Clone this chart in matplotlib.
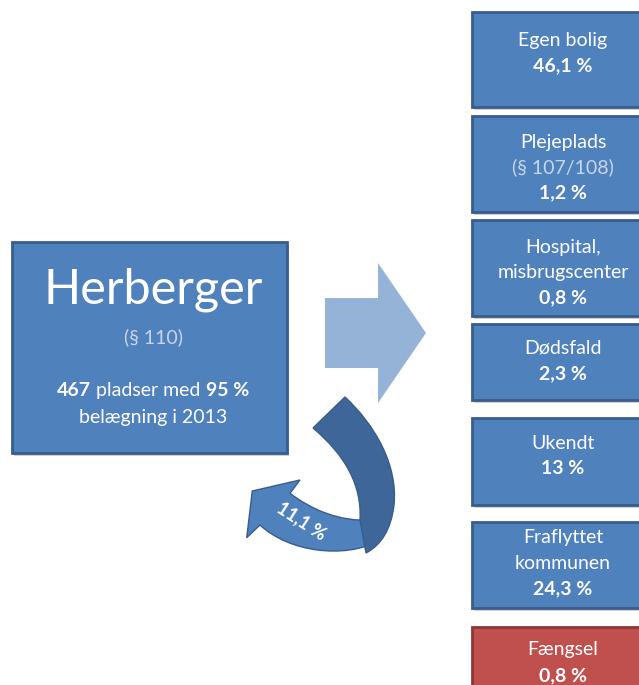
import matplotlib.pyplot as plt
from matplotlib.patches import Rectangle, Polygon, PathPatch
from matplotlib.path import Path
from matplotlib.offsetbox import TextArea, HPacker, AnnotationBbox

plt.rcParams['font.family'] = ['Lato', 'DejaVu Sans']

# outcomes after leaving the shelters
outcome_labels = ["Egen bolig", "Plejeplads", "Hospital,\nmisbrugscenter", "Dødsfald",
                  "Ukendt", "Fraflyttet\nkommunen", "Fængsel"]
outcome_notes = ["", "(§ 107/108)", "", "", "", "", ""]
outcome_pct = [46.1, 1.2, 0.8, 2.3, 13, 24.3, 0.8]
return_pct = 11.1
shelter_title = "Herberger"
shelter_note = "(§ 110)"
shelter_places = 467
shelter_occupancy = 95
shelter_year = 2013

BLUE = "#4f81bd"
EDGE = "#385d8a"
RED = "#c0504d"
RED_EDGE = "#8c3836"
LIGHT = "#95b3d7"
DARK = "#3e6699"
NOTE = "#c6d5ea"


def pct(v):
    return "{:g}".format(v).replace(".", ",") + " %"


def box(ax, x0, y0, x1, y1, face, edge):
    ax.add_patch(Rectangle((x0 + 2, y0 + 3), x1 - x0, y1 - y0, fc="#000000",
                           alpha=0.18, lw=0, zorder=1))
    ax.add_patch(Rectangle((x0, y0), x1 - x0, y1 - y0, fc=face, ec=edge,
                           lw=2, zorder=2))


fig = plt.figure(figsize=(6.39, 6.85), dpi=100)
ax = fig.add_axes([0, 0, 1, 1])
ax.set_xlim(0, 639)
ax.set_ylim(685, 0)
ax.axis("off")

# left box
box(ax, 12, 242, 287, 453, BLUE, EDGE)
ax.text(153, 290, shelter_title, color="white", fontsize=35,
        ha="center", va="center", zorder=3)
ax.text(153, 337, shelter_note, color=NOTE, fontsize=14, ha="center",
        va="center", zorder=3)
txt = dict(color="white", fontsize=14)
parts = [TextArea(str(shelter_places), textprops=dict(txt, fontweight="bold")),
         TextArea(" pladser med ", textprops=txt),
         TextArea(pct(shelter_occupancy), textprops=dict(txt, fontweight="bold"))]
pack = HPacker(children=parts, pad=0, sep=0, align="baseline")
ax.add_artist(AnnotationBbox(pack, (153, 390), frameon=False,
                             box_alignment=(0.5, 0.5), zorder=3))
ax.text(153, 417, "belægning i " + str(shelter_year), ha="center", va="center",
        zorder=3, **txt)

# straight arrow
ax.add_patch(Polygon([(325, 298), (378, 298), (378, 263), (426, 333), (378, 403),
                      (378, 368), (325, 368)], closed=True, fc=LIGHT, lw=0, zorder=2))

# curved return arrow: lower light band with head, dark band on top
M, L, C = Path.MOVETO, Path.LINETO, Path.CURVE4
light_v = [(376, 542), (345, 558), (290, 553), (260, 525), (246.7, 537.7),
           (252.3, 491), (300, 480), (290, 493.3), (312, 510), (340, 522),
           (372, 520), (376, 542)]
light_c = [M, C, C, C, L, L, L, L, C, C, C, L]
dark_v = [(313, 428), (345, 397), (375, 425), (398, 465), (394, 505),
          (391, 530), (381, 545), (366, 553), (360, 520), (362, 485),
          (345, 455), (313, 428)]
dark_c = [M, L, C, C, C, C, C, C, L, C, C, C]
ax.add_patch(PathPatch(Path(light_v, light_c), fc=BLUE, ec=EDGE, lw=1, zorder=2))
ax.add_patch(PathPatch(Path(dark_v, dark_c), fc=DARK, ec=EDGE, lw=1, zorder=2))
ax.text(302, 521, pct(return_pct), color="white", fontsize=13, fontweight="bold",
        rotation=-33, ha="center", va="center", zorder=3)

# right boxes
tops = [12, 116, 220, 324, 418, 522, 627]
bottoms = [107, 212, 316, 400, 505, 608, 700]
first_line = [40, 142, 247, 348, 443, 538, 650]
step = 25.5
for i, lab in enumerate(outcome_labels):
    red = lab == "Fængsel"
    box(ax, 472, tops[i], 656, bottoms[i], RED if red else BLUE, RED_EDGE if red else EDGE)
    lines = [(t, "white", "normal") for t in lab.split("\n")]
    if outcome_notes[i]:
        lines.append((outcome_notes[i], NOTE, "normal"))
    lines.append((pct(outcome_pct[i]), "white", "bold"))
    for k, (t, c, w) in enumerate(lines):
        ax.text(563, first_line[i] + k * step, t, color=c, fontsize=14, fontweight=w,
                ha="center", va="center", zorder=3)

fig.savefig("out.png", dpi=100)
